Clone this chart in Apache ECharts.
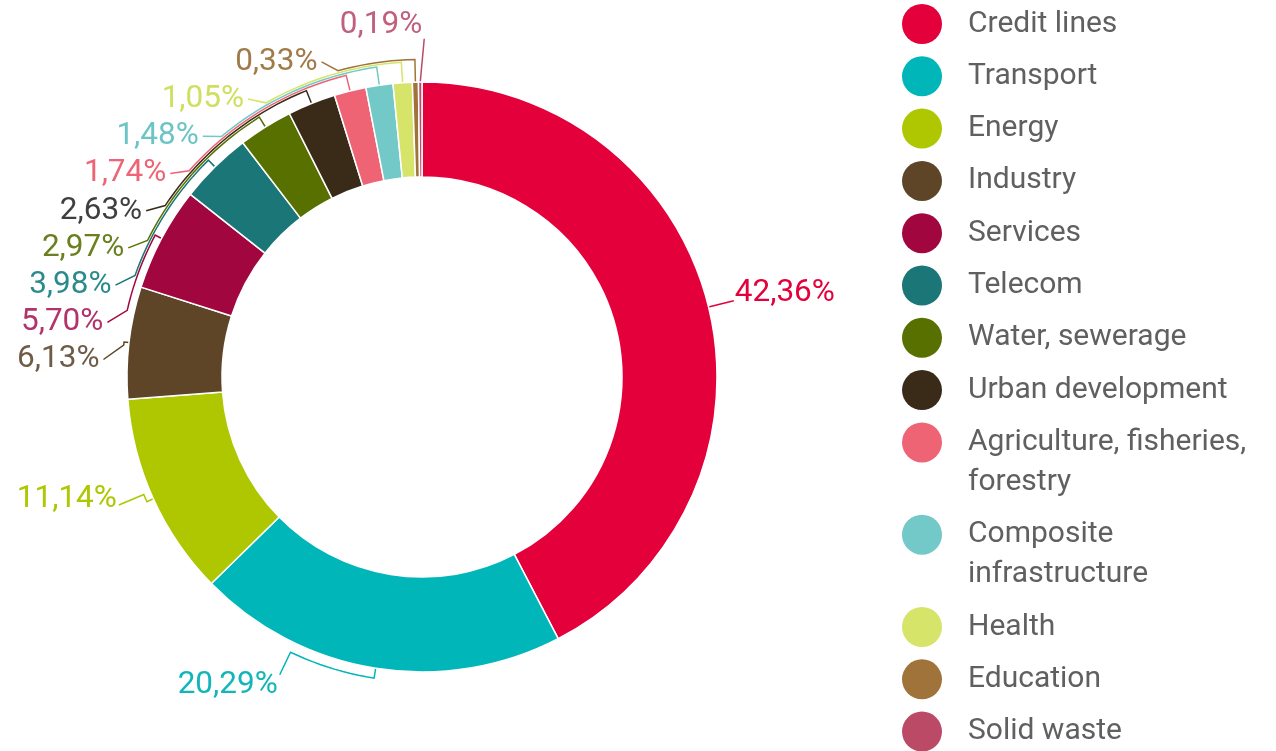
<!DOCTYPE html>
<html>
<head>
<meta charset="utf-8">
<script src="https://cdn.jsdelivr.net/npm/echarts@6/dist/echarts.min.js"></script>
<style>
html,body{margin:0;padding:0;background:#ffffff;}
#chart{width:1276px;height:751px;}
</style>
</head>
<body>
<div id="chart"></div>
<script>
// ---- data ----
const categories = [
  'Credit lines', 'Transport', 'Energy', 'Industry', 'Services', 'Telecom',
  'Water, sewerage', 'Urban development', 'Agriculture, fisheries,\nforestry',
  'Composite\ninfrastructure', 'Health', 'Education', 'Solid waste'
];
const shares = [42.36, 20.29, 11.14, 6.13, 5.70, 3.98, 2.97, 2.63, 1.74, 1.48, 1.05, 0.33, 0.19];

// ---- styles ----
const colors = [
  '#E4003A', '#00B6B8', '#AEC700', '#5F4527', '#A2063E', '#1B7677',
  '#587000', '#3A2B19', '#EE6475', '#72C9C8', '#D6E46A', '#A0733A', '#BB4A66'
];
const labelColors = [
  '#E4003A', '#12B5B8', '#AEC700', '#6E5C47', '#B2336A', '#2B8A8B',
  '#6A8020', '#3F3F3F', '#EE6475', '#6CC4C4', '#CFE060', '#A07A48', '#C0607E'
];

// ---- geometry / layout ----
const CX = 422, CY = 377, R_IN = 200, R_OUT = 295;
const STACK = { first: 3, bottomY: 359.5, step: 37.2, rA: 323, rB: 333, r1Base: 300, r1Step: 2.2 };
const BIG = {
  0: { side: 1, r1: null, dTheta: 0, rEnd: 321, textDy: -8 },
  1: { side: -1, r1: 305, dTheta: 16.5, rEnd: 330, textDy: 10 },
  2: { side: -1, r1: 302, dTheta: 1.5, rEnd: 329, textDy: -6 }
};

function polar(r, deg) {
  const a = deg * Math.PI / 180;
  return [CX + r * Math.sin(a), CY - r * Math.cos(a)];
}
function angleOf(p) {
  return (Math.atan2(p[0] - CX, CY - p[1]) * 180 / Math.PI + 360) % 360;
}
function arcPts(r, a0, a1) {
  const pts = [];
  const n = Math.max(1, Math.ceil(Math.abs(a1 - a0) / 1.5));
  for (let k = 0; k <= n; k++) pts.push(polar(r, a0 + (a1 - a0) * k / n));
  return pts;
}
function midAngle(i) {
  const total = shares.reduce((a, b) => a + b, 0);
  let cum = 0;
  for (let k = 0; k < i; k++) cum += shares[k];
  return 360 * (cum + shares[i] / 2) / total;
}
function fmt(v) {
  return v.toFixed(2).replace('.', ',') + '%';
}

function layoutLabel(params) {
  const i = params.dataIndex;
  const lp = params.labelLinePoints;
  const anchor = (lp && lp.length) ? lp[0] : polar(R_OUT, midAngle(i));
  const thM = angleOf(anchor);
  if (i >= STACK.first) {
    const j = i - STACK.first;
    const yL = STACK.bottomY - j * STACK.step;
    const dy = CY - yL;
    if (Math.abs(dy) >= STACK.rB) {
      const xEnd = anchor[0] + 2;
      return {
        x: xEnd, y: yL, align: 'right', verticalAlign: 'middle',
        labelLinePoints: [anchor, [anchor[0] + 4, yL + 14]]
      };
    }
    const xEnd = CX - STACK.rA * Math.sqrt(1 - Math.pow(dy / STACK.rB, 2));
    const thL = angleOf([xEnd, yL]);
    const r1 = STACK.r1Base + j * STACK.r1Step;
    const thE = Math.min(thM, thL + 3);
    const pts = [anchor].concat(arcPts(r1, thM, thE));
    pts.push([xEnd + 4, yL]);
    return { x: xEnd, y: yL, align: 'right', verticalAlign: 'middle', labelLinePoints: pts };
  }
  const b = BIG[i];
  const thE = thM + b.dTheta;
  let pts = [anchor];
  if (b.r1) pts = pts.concat(arcPts(b.r1, thM, thE));
  const end = polar(b.rEnd, thE);
  pts.push(end);
  const right = b.side > 0;
  return {
    x: right ? end[0] + 1 : end[0] - 2,
    y: end[1] + b.textDy,
    align: right ? 'left' : 'right',
    verticalAlign: 'middle',
    labelLinePoints: pts
  };
}

const chart = echarts.init(document.getElementById('chart'), null, { renderer: 'canvas' });
const option = {
  animation: false,
  backgroundColor: '#ffffff',
  legend: {
    orient: 'vertical',
    left: 902,
    top: 4,
    height: 790,
    padding: 0,
    itemWidth: 40,
    itemHeight: 40,
    itemGap: 12.3,
    icon: 'circle',
    selectedMode: false,
    itemStyle: { borderWidth: 0 },
    formatter: function (name) {
      return name.split('\n').map(function (s) { return '{t|' + s + '}'; }).join('\n');
    },
    textStyle: {
      fontFamily: 'Roboto',
      fontSize: 30,
      color: '#606060',
      height: 40,
      lineHeight: 40,
      padding: [0, 0, 0, 21],
      rich: {
        t: {
          fontFamily: 'Roboto',
          fontSize: 30,
          color: '#606060',
          height: 40,
          lineHeight: 40,
          backgroundColor: 'rgba(255,255,255,0)'
        }
      }
    },
    data: categories
  },
  series: [{
    type: 'pie',
    center: [CX, CY],
    radius: [R_IN, R_OUT],
    startAngle: 90,
    clockwise: true,
    avoidLabelOverlap: false,
    itemStyle: { borderColor: '#ffffff', borderWidth: 1.5 },
    label: {
      show: true,
      position: 'outside',
      fontFamily: 'Roboto',
      fontSize: 31.5,
      formatter: function (p) { return fmt(p.value); }
    },
    labelLine: { show: true, length: 10, length2: 10, smooth: false, lineStyle: { width: 1.5 } },
    labelLayout: layoutLabel,
    emphasis: { disabled: true },
    data: categories.map(function (name, i) {
      return {
        name: name,
        value: shares[i],
        itemStyle: { color: colors[i] },
        label: { color: labelColors[i] }
      };
    })
  }]
};
chart.setOption(option);
</script>
</body>
</html>
